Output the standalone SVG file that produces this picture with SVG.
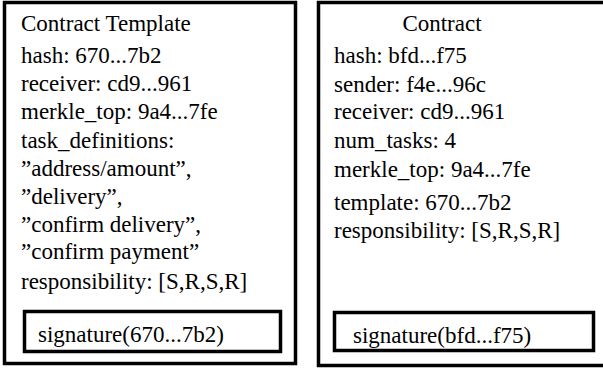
<svg xmlns="http://www.w3.org/2000/svg" width="603" height="369" viewBox="0 0 603 369">
<style>
.box{fill:#fff;stroke:#000;stroke-width:3.5}
.t{font-family:"Liberation Serif","Times New Roman",serif;font-size:23px;fill:#000}
</style>
<rect x="0" y="0" width="603" height="369" fill="#fff"/>
<g id="template">
<rect class="box" x="4.5" y="2.5" width="291" height="361"/>
<text class="t" x="21" y="31">Contract Template</text>
<text class="t" x="21" y="63">hash: 670...7b2</text>
<text class="t" x="21" y="91">receiver: cd9...961</text>
<text class="t" x="21" y="119">merkle_top: 9a4...7fe</text>
<text class="t" x="21" y="148">task_definitions:</text>
<text class="t" x="21" y="176">”address/amount”,</text>
<text class="t" x="21" y="204">”delivery”,</text>
<text class="t" x="21" y="232">”confirm delivery”,</text>
<text class="t" x="21" y="259">”confirm payment”</text>
<text class="t" x="21" y="289">responsibility: [S,R,S,R]</text>
</g>
<g id="template-signature">
<rect class="box" x="24.5" y="311.5" width="256" height="40"/>
<text class="t" x="38" y="342">signature(670...7b2)</text>
</g>
<g id="contract">
<rect class="box" x="318.5" y="2.5" width="290" height="363"/>
<text class="t" x="442" y="31" text-anchor="middle">Contract</text>
<text class="t" x="334" y="63">hash: bfd...f75</text>
<text class="t" x="334" y="92">sender: f4e...96c</text>
<text class="t" x="334" y="119">receiver: cd9...961</text>
<text class="t" x="334" y="148">num_tasks: 4</text>
<text class="t" x="334" y="177">merkle_top: 9a4...7fe</text>
<text class="t" x="334" y="210">template: 670...7b2</text>
<text class="t" x="334" y="238">responsibility: [S,R,S,R]</text>
</g>
<g id="contract-signature">
<rect class="box" x="334.5" y="312.5" width="259" height="38"/>
<text class="t" x="353" y="343">signature(bfd...f75)</text>
</g>
<g id="connectors"></g>
</svg>
